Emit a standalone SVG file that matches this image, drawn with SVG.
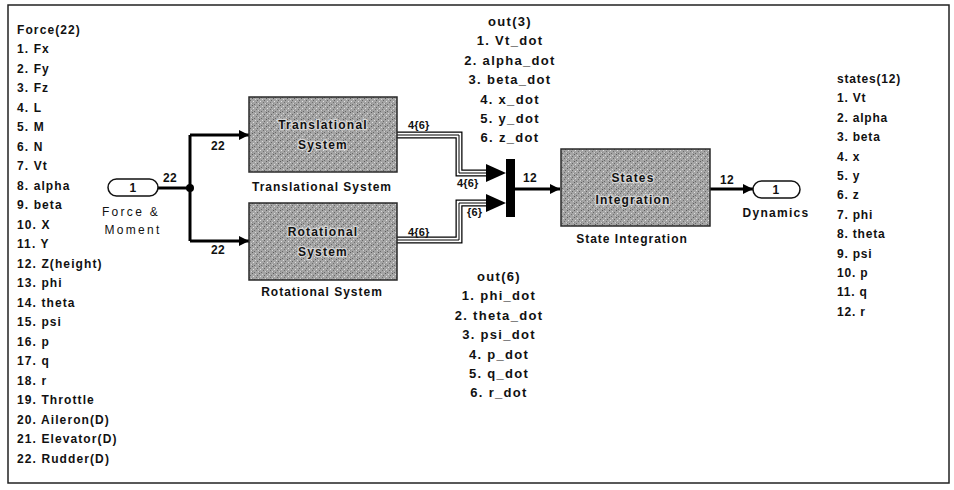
<svg xmlns="http://www.w3.org/2000/svg" width="954" height="490" viewBox="0 0 954 490">
<style>
text{font-family:"Liberation Sans",Arial,sans-serif;font-weight:bold;fill:#111;}
.lst{font-size:12px;letter-spacing:1.1px;}
.ctr{font-size:13px;letter-spacing:1.3px;text-anchor:middle;}
.rl{font-size:12px;letter-spacing:0.8px;}
.lbl{font-size:12px;letter-spacing:1px;text-anchor:middle;}
.in{font-size:12px;letter-spacing:1.2px;text-anchor:middle;stroke:#d4d4d4;stroke-width:2.5px;paint-order:stroke;}
.num{font-size:12px;letter-spacing:0.3px;}
.bus{font-size:11px;letter-spacing:0.2px;}
.blk{fill:url(#grain);stroke:#2a2a2a;stroke-width:1.5;}
.port{fill:#fff;stroke:#111;stroke-width:1.5;}
.sig{fill:none;stroke:#000;stroke-width:3;}
.busO{fill:none;stroke:#000;stroke-width:7;}
.busW{fill:none;stroke:#fff;stroke-width:4.5;}
.busI{fill:none;stroke:#000;stroke-width:1;}
</style>
<defs>
<pattern id="grain" width="7" height="7" patternUnits="userSpaceOnUse">
<rect width="7" height="7" fill="#a4a4a4"/>
<rect x="0" y="0" width="1" height="1" fill="#5c5c5c"/>
<rect x="3" y="1" width="1" height="1" fill="#d8d8d8"/>
<rect x="5" y="2" width="1" height="1" fill="#666"/>
<rect x="1" y="3" width="1" height="1" fill="#e0e0e0"/>
<rect x="4" y="4" width="1" height="1" fill="#707070"/>
<rect x="6" y="5" width="1" height="1" fill="#d0d0d0"/>
<rect x="2" y="6" width="1" height="1" fill="#6a6a6a"/>
<rect x="0" y="5" width="1" height="1" fill="#8a8a8a"/>
</pattern>
<marker id="ah" markerWidth="10" markerHeight="10" refX="10" refY="5" orient="auto" markerUnits="userSpaceOnUse">
<path d="M0,0 L10,5 L0,10 Z" fill="#000"/>
</marker>
</defs>
<rect width="954" height="490" fill="#fff"/>
<rect x="8" y="5" width="941" height="478" fill="none" stroke="#222" stroke-width="1.5"/>

<g id="force-list">
<text class="lst" x="17" y="33.5">Force(22)<tspan x="17" dy="19.5">1. Fx</tspan><tspan x="17" dy="19.5">2. Fy</tspan><tspan x="17" dy="19.5">3. Fz</tspan><tspan x="17" dy="19.5">4. L</tspan><tspan x="17" dy="19.5">5. M</tspan><tspan x="17" dy="19.5">6. N</tspan><tspan x="17" dy="19.5">7. Vt</tspan><tspan x="17" dy="19.5">8. alpha</tspan><tspan x="17" dy="19.5">9. beta</tspan><tspan x="17" dy="19.5">10. X</tspan><tspan x="17" dy="19.5">11. Y</tspan><tspan x="17" dy="19.5">12. Z(height)</tspan><tspan x="17" dy="19.5">13. phi</tspan><tspan x="17" dy="19.5">14. theta</tspan><tspan x="17" dy="19.5">15. psi</tspan><tspan x="17" dy="19.5">16. p</tspan><tspan x="17" dy="19.5">17. q</tspan><tspan x="17" dy="19.5">18. r</tspan><tspan x="17" dy="19.5">19. Throttle</tspan><tspan x="17" dy="19.5">20. Aileron(D)</tspan><tspan x="17" dy="19.5">21. Elevator(D)</tspan><tspan x="17" dy="19.5">22. Rudder(D)</tspan></text>
</g>

<g id="out3-list">
<text class="ctr" x="510" y="26">out(3)<tspan x="510" dy="19.4">1. Vt_dot</tspan><tspan x="510" dy="19.4">2. alpha_dot</tspan><tspan x="510" dy="19.4">3. beta_dot</tspan><tspan x="510" dy="19.4">4. x_dot</tspan><tspan x="510" dy="19.4">5. y_dot</tspan><tspan x="510" dy="19.4">6. z_dot</tspan></text>
</g>

<g id="out6-list">
<text class="ctr" x="499" y="281">out(6)<tspan x="499" dy="19.4">1. phi_dot</tspan><tspan x="499" dy="19.4">2. theta_dot</tspan><tspan x="499" dy="19.4">3. psi_dot</tspan><tspan x="499" dy="19.4">4. p_dot</tspan><tspan x="499" dy="19.4">5. q_dot</tspan><tspan x="499" dy="19.4">6. r_dot</tspan></text>
</g>

<g id="states-list">
<text class="rl" x="837" y="83">states(12)<tspan x="837" dy="19.4">1. Vt</tspan><tspan x="837" dy="19.4">2. alpha</tspan><tspan x="837" dy="19.4">3. beta</tspan><tspan x="837" dy="19.4">4. x</tspan><tspan x="837" dy="19.4">5. y</tspan><tspan x="837" dy="19.4">6. z</tspan><tspan x="837" dy="19.4">7. phi</tspan><tspan x="837" dy="19.4">8. theta</tspan><tspan x="837" dy="19.4">9. psi</tspan><tspan x="837" dy="19.4">10. p</tspan><tspan x="837" dy="19.4">11. q</tspan><tspan x="837" dy="19.4">12. r</tspan></text>
</g>

<g id="connectors">
<path class="sig" d="M158,188 H190"/>
<path class="sig" d="M190,135 V241"/>
<path class="sig" d="M190,135 H249" marker-end="url(#ah)"/>
<path class="sig" d="M190,241 H249" marker-end="url(#ah)"/>
<circle cx="190" cy="188" r="4" fill="#000"/>
<path class="busO" d="M397,135 H459 V173 H488"/>
<path class="busW" d="M397,135 H459 V173 H488"/>
<path class="busI" d="M397,135 H459 V173 H488"/>
<path class="busO" d="M397,240 H459 V203 H488"/>
<path class="busW" d="M397,240 H459 V203 H488"/>
<path class="busI" d="M397,240 H459 V203 H488"/>
<polygon points="486,164 506,173 486,182" fill="#000"/>
<polygon points="486,194 506,203 486,212" fill="#000"/>
<path class="sig" d="M515,189 H560" marker-end="url(#ah)"/>
<path class="sig" d="M710,189 H753" marker-end="url(#ah)"/>
<text class="num" x="163" y="182">22</text>
<text class="num" x="211" y="150">22</text>
<text class="num" x="211" y="254">22</text>
<text class="bus" x="408" y="129">4{6}</text>
<text class="bus" x="457" y="187">4{6}</text>
<text class="bus" x="467" y="216">{6}</text>
<text class="bus" x="408" y="236">4{6}</text>
<text class="num" x="523" y="182">12</text>
<text class="num" x="720" y="184">12</text>
</g>

<g id="inport">
<rect class="port" x="108" y="179" width="50" height="17" rx="8.5"/>
<text class="num" x="133" y="192" text-anchor="middle">1</text>
<text class="lbl" x="131" y="216" style="letter-spacing:2.3px;font-weight:normal">Force &amp;</text>
<text class="lbl" x="133" y="234" style="letter-spacing:2.3px;font-weight:normal">Moment</text>
</g>

<g id="translational">
<rect class="blk" x="249" y="97" width="148" height="75"/>
<text class="in" x="323" y="129">Translational</text>
<text class="in" x="323" y="149">System</text>
<text class="lbl" x="322" y="191">Translational System</text>
</g>

<g id="rotational">
<rect class="blk" x="249" y="203" width="148" height="77"/>
<text class="in" x="323" y="236">Rotational</text>
<text class="in" x="323" y="256">System</text>
<text class="lbl" x="322" y="296">Rotational System</text>
</g>

<g id="mux">
<rect x="506" y="159" width="9" height="58" fill="#000"/>
</g>

<g id="state-integration">
<rect class="blk" x="561" y="149" width="149" height="77"/>
<text class="in" x="633" y="182">States</text>
<text class="in" x="633" y="204">Integration</text>
<text class="lbl" x="632" y="243">State Integration</text>
</g>

<g id="outport">
<rect class="port" x="753" y="181" width="47" height="17" rx="8.5"/>
<text class="num" x="776" y="194" text-anchor="middle">1</text>
<text class="lbl" x="776" y="217" style="letter-spacing:1.3px">Dynamics</text>
</g>
</svg>
